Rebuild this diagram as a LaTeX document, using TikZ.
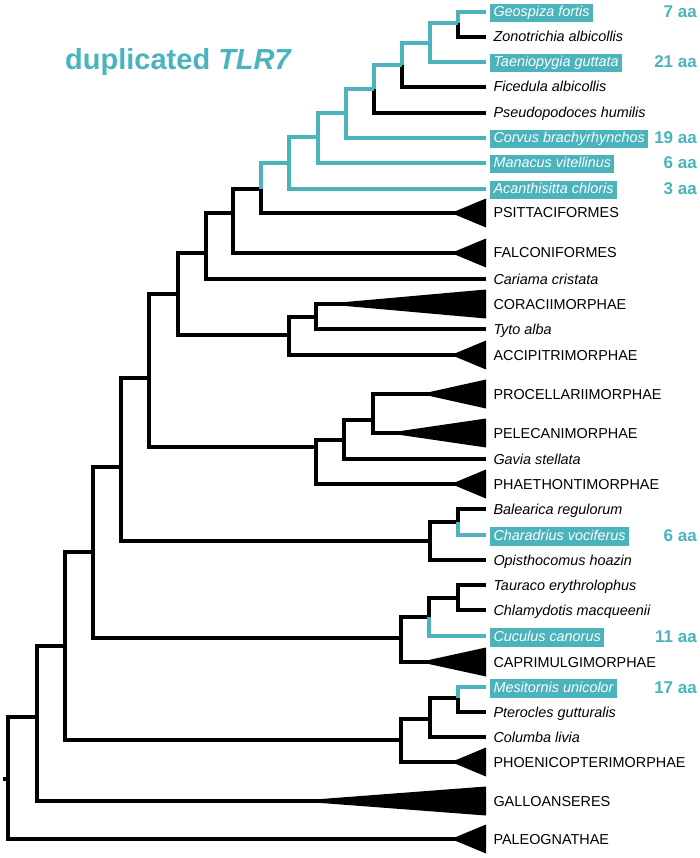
\documentclass[tikz,border=0pt]{standalone}
\usepackage{fontspec}
\setmainfont{Liberation Sans}
\definecolor{dupcyan}{RGB}{74,179,188}
\begin{document}
\begin{tikzpicture}[x=1pt,y=-1pt,
    treeline/.style={line width=3.2pt,black},
    dupline/.style={line width=3.2pt,dupcyan},
    taxon/.style={anchor=base west,inner xsep=3.3pt,inner ysep=2.5pt,text height=10.5pt,text depth=3pt,font=\fontsize{14.4}{16}\selectfont\itshape},
    hilite/.style={taxon,fill=dupcyan,text=white},
    group/.style={taxon,font=\fontsize{14.4}{16}\selectfont},
    aacount/.style={anchor=base east,inner sep=0pt,text=dupcyan,font=\fontsize{17}{19}\selectfont\bfseries}]
    \useasboundingbox (0,0) rectangle (700,858);

    % title
    \node[anchor=base west,inner sep=0pt,text=dupcyan,font=\fontsize{29}{33}\selectfont\bfseries] (title) at (65,69.5) {duplicated \textit{TLR7}};

    % internal nodes
    \coordinate (n1) at (458,23);
    \coordinate (n2) at (430,43);
    \coordinate (n3) at (402,65);
    \coordinate (n4) at (374,89);
    \coordinate (n5) at (346,113);
    \coordinate (n6) at (318,137);
    \coordinate (n7) at (289,163);
    \coordinate (n8) at (261,189);
    \coordinate (n9) at (233,213);
    \coordinate (n10) at (206,253);
    \coordinate (n11) at (178,294);
    \coordinate (ncor) at (289,335);
    \coordinate (nty) at (316,317);
    \coordinate (n12) at (149,378);
    \coordinate (npha) at (316,447);
    \coordinate (ngav) at (344,440);
    \coordinate (npro) at (373,420);
    \coordinate (n13) at (121,467);
    \coordinate (nbal) at (430,541);
    \coordinate (ncha) at (458,522);
    \coordinate (n14) at (93,552);
    \coordinate (ncuc) at (401,638);
    \coordinate (ncu2) at (429,617);
    \coordinate (ntau) at (458,598);
    \coordinate (n15) at (65,646);
    \coordinate (ncol) at (401,740);
    \coordinate (npte) at (430,719);
    \coordinate (nmes) at (458,698);
    \coordinate (n16) at (37,717);
    \coordinate (root) at (8,779);
    \coordinate (stub) at (3,779);

    % single species
    \foreach \n/\y/\name in {zon/37/Zonotrichia albicollis, fic/87/Ficedula albicollis,
        pse/113/Pseudopodoces humilis, car/279/Cariama cristata, tyt/329/Tyto alba,
        gav/459/Gavia stellata, bal/509/Balearica regulorum, opi/560/Opisthocomus hoazin,
        tau/585/Tauraco erythrolophus, chl/610/Chlamydotis macqueenii,
        pte/712/Pterocles gutturalis, col/737/Columba livia}{
        \coordinate (\n) at (486,\y);
        \node[taxon] (\n-lab) at (490,\y+5) {\name};
    }

    % species with duplicated TLR7
    \foreach \n/\y/\name/\aa in {geo/12/Geospiza fortis/7 aa, tae/62/Taeniopygia guttata/21 aa,
        cor/138/Corvus brachyrhynchos/19 aa, man/163/Manacus vitellinus/6 aa,
        aca/189/Acanthisitta chloris/3 aa, cha/535/Charadrius vociferus/6 aa,
        cuc/636/Cuculus canorus/11 aa, mes/687/Mesitornis unicolor/17 aa}{
        \coordinate (\n) at (486,\y);
        \node[hilite] (\n-lab) at (490,\y+5) {\name};
        \node[aacount] (\n-aa) at (697,\y+6) {\aa};
    }

    % collapsed clades
    \foreach \n/\x/\y/\name in {psi/457/213/PSITTACIFORMES, fal/457/253/FALCONIFORMES,
        crc/343/304/CORACIIMORPHAE, acc/457/355/ACCIPITRIMORPHAE,
        pro/430/394/PROCELLARIIMORPHAE, pel/400/433/PELECANIMORPHAE,
        pha/457/484/PHAETHONTIMORPHAE, cap/429/662/CAPRIMULGIMORPHAE,
        pho/457/762/PHOENICOPTERIMORPHAE, gal/318/801/GALLOANSERES,
        pal/457/839/PALEOGNATHAE}{
        \coordinate (\n) at (\x,\y);
        \fill (\x-2,\y-1.6) -- (486,\y-14.5) -- (486,\y+14.5) -- (\x-2,\y+1.6) -- cycle;
        \node[group] (\n-lab) at (490,\y+5) {\name};
    }

    % branches
    \draw[treeline] (stub) -- (root);
    \foreach \p/\c in {n1/zon, n3/fic, n4/pse, n8/psi, n9/n8, n9/fal, n10/n9, n10/car,
        n11/n10, n11/ncor, ncor/nty, ncor/acc, nty/crc, nty/tyt, n12/n11, n12/npha,
        npha/ngav, npha/pha, ngav/npro, ngav/gav, npro/pro, npro/pel, n13/n12, n13/nbal,
        nbal/ncha, nbal/opi, ncha/bal, n14/n13, n14/ncuc, ncuc/ncu2, ncuc/cap, ncu2/ntau,
        ntau/tau, ntau/chl, n15/n14, n15/ncol, ncol/npte, ncol/pho, npte/nmes, npte/col,
        nmes/pte, n16/n15, n16/gal, root/n16, root/pal}
        \draw[treeline] (\p) |- (\c);
    \foreach \p/\c in {n1/geo, n2/n1, n2/tae, n3/n2, n4/n3, n5/n4, n5/cor, n6/n5, n6/man,
        n7/n6, n7/aca, n8/n7, ncha/cha, ncu2/cuc, nmes/mes}
        \draw[dupline] (\p) |- (\c);
\end{tikzpicture}
\end{document}
